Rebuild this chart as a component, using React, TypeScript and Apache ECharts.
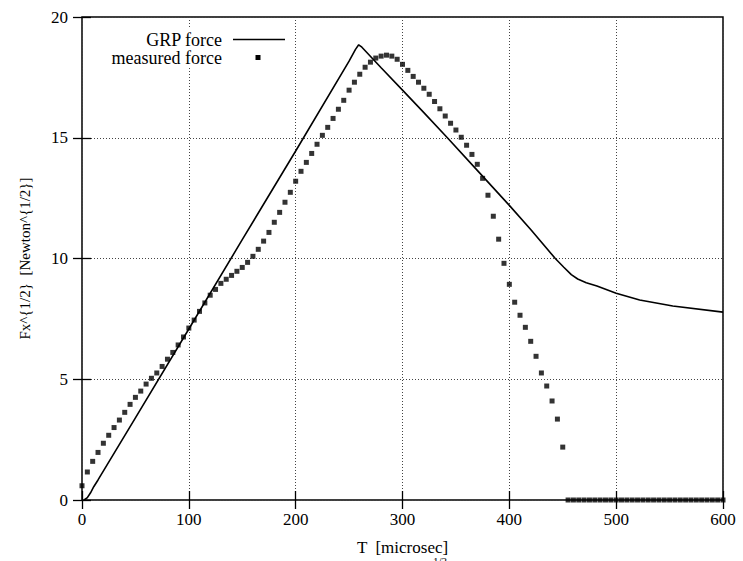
import React, { useEffect, useRef } from "react";
import * as echarts from "echarts";

// measured force samples (time in microsec, value in Newton^{1/2})
const measuredT = [
  0, 5, 10, 15, 20, 25, 30, 35, 40, 45, 50, 55, 60, 65, 70, 75, 80, 85, 90, 95,
  100, 105, 110, 115, 120, 125, 130, 135, 140, 145, 150, 155, 160, 165, 170, 175,
  180, 185, 190, 195, 200, 205, 210, 215, 220, 225, 230, 235, 240, 245, 250, 255,
  260, 265, 270, 275, 280, 285, 290, 295, 300, 305, 310, 315, 320, 325, 330, 335,
  340, 345, 350, 355, 360, 365, 370, 375, 380, 385, 390, 395, 400, 405, 410, 415,
  420, 425, 430, 435, 440, 445, 450, 455, 460, 465, 470, 475, 480, 485, 490, 495,
  500, 505, 510, 515, 520, 525, 530, 535, 540, 545, 550, 555, 560, 565, 570, 575,
  580, 585, 590, 595, 600,
];
const measuredF = [
  0.59, 1.16, 1.6, 1.97, 2.35, 2.68, 3.0, 3.31, 3.63, 3.96, 4.25, 4.51, 4.8, 5.04,
  5.26, 5.53, 5.83, 6.11, 6.42, 6.75, 7.12, 7.45, 7.81, 8.16, 8.48, 8.72, 8.97,
  9.14, 9.3, 9.47, 9.63, 9.84, 10.09, 10.38, 10.72, 11.08, 11.5, 11.91, 12.33,
  12.74, 13.2, 13.61, 13.98, 14.35, 14.73, 15.1, 15.43, 15.8, 16.18, 16.55, 16.97,
  17.3, 17.63, 17.92, 18.13, 18.3, 18.38, 18.42, 18.38, 18.25, 18.04, 17.79, 17.54,
  17.3, 17.05, 16.8, 16.5, 16.2, 15.9, 15.6, 15.32, 15.02, 14.69, 14.31, 13.9,
  13.32, 12.62, 11.75, 10.8, 9.8, 8.93, 8.19, 7.65, 7.15, 6.57, 5.95, 5.26, 4.72,
  4.1, 3.35, 2.19, 0, 0, 0, 0, 0, 0, 0, 0, 0, 0, 0, 0, 0, 0, 0, 0, 0, 0, 0, 0, 0,
  0, 0, 0, 0, 0, 0, 0, 0, 0,
];

// GRP model force curve
const grpT = [
  2, 5, 8, 11, 15, 50, 100, 150, 200, 250, 256, 259, 262, 280, 300, 320, 342,
  370, 400, 420, 443, 451, 458, 464, 472, 482, 500, 522, 553, 600,
];
const grpF = [
  0, 0.1, 0.3, 0.55, 0.83, 3.4, 7.08, 10.78, 14.45, 18.17, 18.66, 18.85, 18.75,
  17.9, 16.97, 16.04, 15.0, 13.65, 12.2, 11.2, 10.0, 9.64, 9.33, 9.15, 9.0, 8.86,
  8.56, 8.28, 8.03, 7.78,
];

const xMin = 0;
const xMax = 600;
const xStep = 100;
const yMin = 0;
const yMax = 20;
const yStep = 5;

const legendLabels = ["GRP force", "measured force"];
const xTitle = "T  [microsec]";
const yTitle = "Fx^{1/2}  [Newton^{1/2}]";

const FONT = "'Liberation Serif', 'DejaVu Serif', serif";

export default function App() {
  const ref = useRef<HTMLDivElement>(null);

  useEffect(() => {
    document.body.style.margin = "0";
    const chart = echarts.init(ref.current!, null, { renderer: "svg" });
    const grid = { left: 82, right: 20, top: 17, bottom: 61 };
    const gridLine = { show: true, lineStyle: { color: "#444", width: 1, type: [1, 2] as any } };
    const tick = { show: true, inside: true, length: 9, lineStyle: { color: "#000", width: 1.3 } };

    chart.setOption({
      animation: false,
      backgroundColor: "#fff",
      grid: { ...grid, show: true, borderColor: "#000", borderWidth: 1.5, backgroundColor: "transparent" },
      xAxis: [
        {
          type: "value",
          min: xMin,
          max: xMax,
          interval: xStep,
          position: "bottom",
          name: xTitle,
          nameLocation: "middle",
          nameGap: 39,
          nameTextStyle: { fontFamily: FONT, fontSize: 17, color: "#000" },
          axisLine: { show: false },
          axisTick: tick,
          splitLine: gridLine,
          axisLabel: { fontFamily: FONT, fontSize: 17, color: "#000", margin: 11 },
        },
        {
          type: "value",
          min: xMin,
          max: xMax,
          interval: xStep,
          position: "top",
          axisLine: { show: false },
          axisTick: tick,
          splitLine: { show: false },
          axisLabel: { show: false },
        },
      ],
      yAxis: [
        {
          type: "value",
          min: yMin,
          max: yMax,
          interval: yStep,
          position: "left",
          name: yTitle,
          nameLocation: "middle",
          nameGap: 50,
          nameTextStyle: { fontFamily: FONT, fontSize: 15, color: "#000" },
          axisLine: { show: false },
          axisTick: tick,
          splitLine: gridLine,
          axisLabel: { fontFamily: FONT, fontSize: 17, color: "#000", margin: 14 },
        },
        {
          type: "value",
          min: yMin,
          max: yMax,
          interval: yStep,
          position: "right",
          axisLine: { show: false },
          axisTick: tick,
          splitLine: { show: false },
          axisLabel: { show: false },
        },
      ],
      series: [
        {
          name: legendLabels[0],
          type: "line",
          data: grpT.map((t, i) => [t, grpF[i]]),
          showSymbol: false,
          symbol: "none",
          smooth: false,
          lineStyle: { color: "#000", width: 1.6 },
          clip: false,
          z: 3,
        },
        {
          name: legendLabels[1],
          type: "scatter",
          data: measuredT.map((t, i) => [t, measuredF[i]]),
          symbol: "rect",
          symbolSize: 5,
          itemStyle: { color: "#000" },
          clip: false,
          z: 4,
        },
      ],
      graphic: [
        { type: "rect", z: 100, shape: { x: 104, y: 27, width: 188, height: 40 }, style: { fill: "#fff" } },
        {
          type: "text",
          z: 101,
          x: 222,
          y: 39.5,
          style: { text: legendLabels[0], fontFamily: FONT, fontSize: 18, fill: "#000", align: "right", verticalAlign: "middle" },
        },
        {
          type: "text",
          z: 101,
          x: 222,
          y: 57.5,
          style: { text: legendLabels[1], fontFamily: FONT, fontSize: 18, fill: "#000", align: "right", verticalAlign: "middle" },
        },
        { type: "line", z: 101, shape: { x1: 233, y1: 39.5, x2: 285, y2: 39.5 }, style: { stroke: "#000", lineWidth: 1.6 } },
        { type: "rect", z: 101, shape: { x: 255.5, y: 55, width: 5, height: 5 }, style: { fill: "#000" } },
        {
          type: "text",
          z: 101,
          x: 440,
          y: 555,
          style: { text: "1/2", fontFamily: FONT, fontSize: 11, fill: "#000", align: "center", verticalAlign: "top" },
        },
      ],
    });
    return () => chart.dispose();
  }, []);

  return <div ref={ref} style={{ position: "fixed", left: 0, top: 0, width: 743, height: 561 }} />;
}
